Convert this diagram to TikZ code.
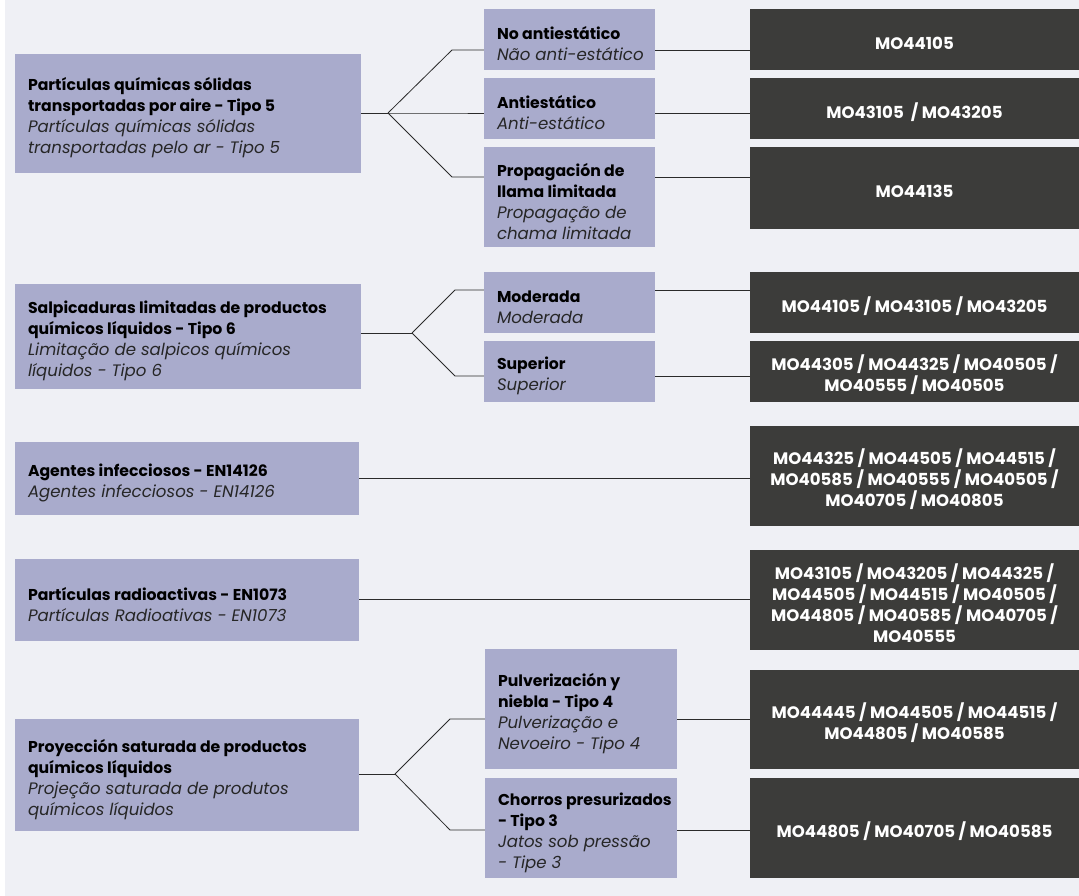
\documentclass[tikz,border=0pt]{standalone}
\usepackage{fontspec}
\setmainfont{Poppins}[BoldFont={Poppins Bold},ItalicFont={Poppins Italic}]
\newfontfamily\darkfont{Poppins Bold}
\usetikzlibrary{calc}
\definecolor{bgc}{HTML}{EFF0F5}
\definecolor{lav}{HTML}{A9ABCC}
\definecolor{darkc}{HTML}{3C3C3A}
\definecolor{linec}{HTML}{2A2A2A}
\newcommand{\myb}[1]{{\bfseries\fontsize{15.7}{21}\selectfont #1}}
\newcommand{\myi}[1]{{\itshape\fontsize{16.6}{21}\selectfont\color{black!85}#1}}
\newcommand{\lavnode}[6]{%
  \node[lavbg, minimum width=#4pt, minimum height=#5pt] (#1) at (#2,#3) {};
  \node[lavtxt, anchor=west] (#1t) at ([xshift=13pt,yshift=-4.5pt]#1.west) {#6};}
\newcommand{\darknode}[4]{%
  \node[darkbg, minimum height=#3pt] (#1) at (914.5,#2) {};
  \node[darktxt] (#1t) at ([yshift=-3.5pt]#1.center) {#4};}
\begin{document}
\begin{tikzpicture}[x=1pt,y=-1pt,
  lavbg/.style={fill=lav, inner sep=0pt},
  lavtxt/.style={inner sep=0pt, align=left, font=\fontsize{15.7}{21}\selectfont, text=black},
  darkbg/.style={fill=darkc, inner sep=0pt, minimum width=329pt},
  darktxt/.style={inner sep=0pt, align=center, text=white, font=\darkfont\fontsize{16.6}{21}\selectfont},
  conn/.style={draw=linec, line width=0.8pt}]
\useasboundingbox (0,0) rectangle (1079,896);
\fill[white] (0,0) rectangle (1079,896);
\fill[bgc] (5,0) rectangle (1079,896);

% left boxes
\lavnode{L1}{188}{113.5}{346}{119}{\myb{Partículas químicas sólidas}\\\myb{transportadas por aire - Tipo 5}\\\myi{Partículas químicas sólidas}\\\myi{transportadas pelo ar - Tipo 5}}
\lavnode{L2}{188}{336.5}{346}{105}{\myb{Salpicaduras limitadas de productos}\\\myb{químicos líquidos - Tipo 6}\\\myi{Limitação de salpicos químicos}\\\myi{líquidos - Tipo 6}}
\lavnode{L3}{187}{478.5}{344}{73}{\myb{Agentes infecciosos - EN14126}\\\myi{Agentes infecciosos - EN14126}}
\lavnode{L4}{187}{600}{344}{82}{\myb{Partículas radioactivas - EN1073}\\\myi{Partículas Radioativas - EN1073}}
\lavnode{L5}{187}{775}{344}{112}{\myb{Proyección saturada de productos}\\\myb{químicos líquidos}\\\myi{Projeção saturada de produtos}\\\myi{químicos líquidos}}

% middle boxes
\lavnode{M1a}{569.5}{39.5}{171}{61}{\myb{No antiestático}\\\myi{Não anti-estático}}
\lavnode{M1b}{569.5}{108.5}{171}{61}{\myb{Antiestático}\\\myi{Anti-estático}}
\lavnode{M1c}{569.5}{197}{171}{100}{\myb{Propagación de}\\\myb{llama limitada}\\\myi{Propagação de}\\\myi{chama limitada}}
\lavnode{M2a}{569.5}{302.5}{171}{61}{\myb{Moderada}\\\myi{Moderada}}
\lavnode{M2b}{569.5}{371.5}{171}{61}{\myb{Superior}\\\myi{Superior}}
\lavnode{M5a}{581}{709}{192}{120}{\myb{Pulverización y}\\\myb{niebla - Tipo 4}\\\myi{Pulverização e}\\\myi{Nevoeiro - Tipo 4}}
\lavnode{M5b}{581}{828}{192}{100}{\myb{Chorros presurizados}\\\myb{- Tipo 3}\\\myi{Jatos sob pressão}\\\myi{- Tipe 3}}

% dark boxes
\darknode{D1a}{39.5}{61}{MO44105}
\darknode{D1b}{108.5}{61}{MO43105 \ / MO43205}
\darknode{D1c}{188}{82}{MO44135}
\darknode{D2a}{302.5}{61}{MO44105 / MO43105 / MO43205}
\darknode{D2b}{371.5}{61}{MO44305 / MO44325 / MO40505 /\\MO40555 / MO40505}
\darknode{D3}{476}{100}{MO44325 / MO44505 / MO44515 /\\MO40585 / MO40555 / MO40505 /\\MO40705 / MO40805}
\darknode{D4}{600}{100}{MO43105 / MO43205 / MO44325 /\\MO44505 / MO44515 / MO40505 /\\MO44805 / MO40585 / MO40705 /\\MO40555}
\darknode{D5a}{719.5}{99}{MO44445 / MO44505 / MO44515 /\\MO44805 / MO40585}
\darknode{D5b}{828}{100}{MO44805 / MO40705 / MO40585}

% branch coordinates
\coordinate (B1) at (388,113);
\coordinate (k1a) at (452,50);
\coordinate (k1b) at (452,113);
\coordinate (k1c) at (452,177);
\coordinate (B2) at (412,333);
\coordinate (k2a) at (455,290);
\coordinate (k2b) at (455,376);
\coordinate (B5) at (395,774);
\coordinate (k5a) at (450,719);
\coordinate (k5b) at (450,830);
\coordinate (y3) at (0,478);
\coordinate (y4) at (0,599);

% connectors
\draw[conn] (L1.east |- B1) -- (B1);
\draw[conn] (B1) -- (k1a) -- (M1a.west |- k1a);
\draw[conn] (B1) -- (k1b) -- (M1b.west |- k1b);
\draw[conn] (B1) -- (k1c) -- (M1c.west |- k1c);
\draw[conn] (M1a.east |- k1a) -- (D1a.west |- k1a);
\draw[conn] (M1b.east |- k1b) -- (D1b.west |- k1b);
\draw[conn] (M1c.east |- k1c) -- (D1c.west |- k1c);

\draw[conn] (L2.east |- B2) -- (B2);
\draw[conn] (B2) -- (k2a) -- (M2a.west |- k2a);
\draw[conn] (B2) -- (k2b) -- (M2b.west |- k2b);
\draw[conn] (M2a.east |- k2a) -- (D2a.west |- k2a);
\draw[conn] (M2b.east |- k2b) -- (D2b.west |- k2b);

\draw[conn] (L3.east |- y3) -- (D3.west |- y3);
\draw[conn] (L4.east |- y4) -- (D4.west |- y4);

\draw[conn] (L5.east |- B5) -- (B5);
\draw[conn] (B5) -- (k5a) -- (M5a.west |- k5a);
\draw[conn] (B5) -- (k5b) -- (M5b.west |- k5b);
\draw[conn] (M5a.east |- k5a) -- (D5a.west |- k5a);
\draw[conn] (M5b.east |- k5b) -- (D5b.west |- k5b);
\end{tikzpicture}
\end{document}
